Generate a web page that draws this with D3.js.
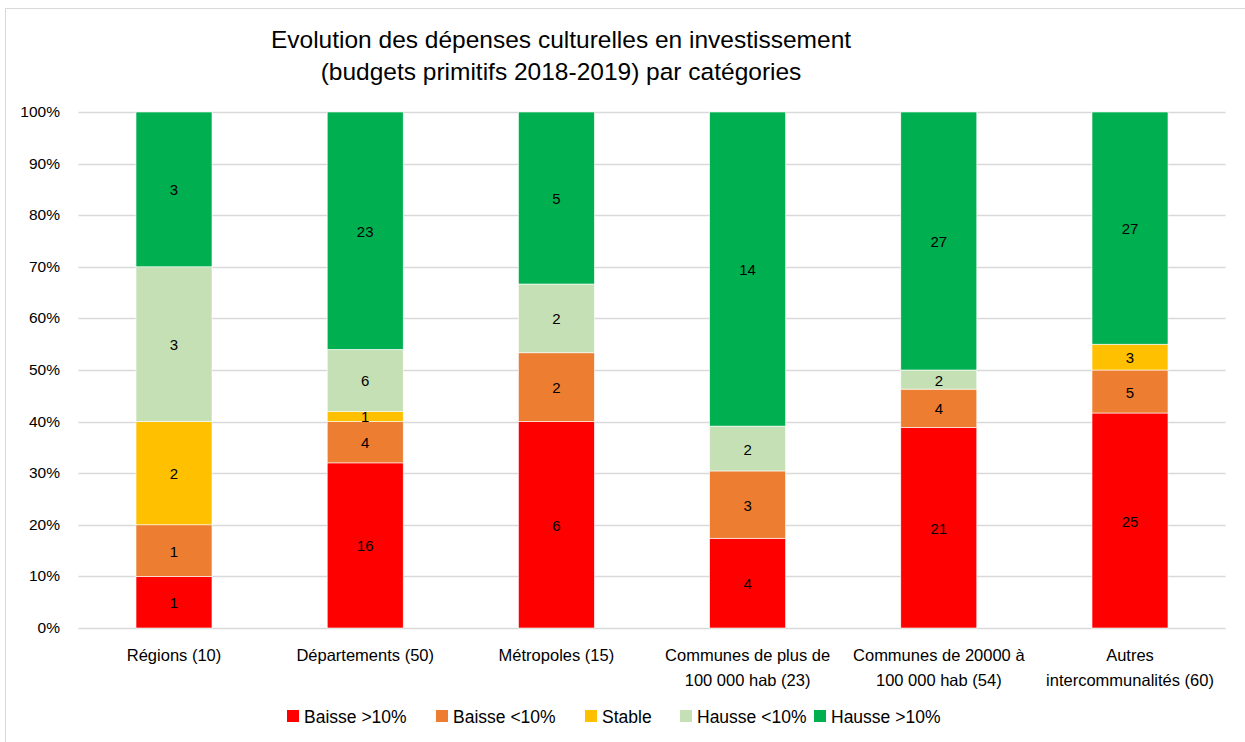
<!DOCTYPE html>
<html>
<head>
<meta charset="utf-8">
<script src="https://cdn.jsdelivr.net/npm/d3@7"></script>
<style>
  body { margin: 0; background: #fff; }
  text { font-family: "Liberation Sans", Arial, sans-serif; fill: #000; }
</style>
</head>
<body>
<div id="chart"></div>
<script>
// categories (two lines for the axis labels)
var categories = [
  ["Régions (10)"],
  ["Départements (50)"],
  ["Métropoles (15)"],
  ["Communes de plus de", "100 000 hab (23)"],
  ["Communes de 20000 à", "100 000 hab (54)"],
  ["Autres", "intercommunalités (60)"]
];
var seriesNames = ["Baisse >10%", "Baisse <10%", "Stable", "Hausse <10%", "Hausse >10%"];
var seriesColors = ["#ff0000", "#ed7d31", "#ffc000", "#c5e0b4", "#00b050"];

// counts per category
var baisseFort = [1, 16, 6, 4, 21, 25];
var baisseFaible = [1, 4, 2, 3, 4, 5];
var stable = [2, 1, 0, 0, 0, 3];
var hausseFaible = [3, 6, 2, 2, 2, 0];
var hausseFort = [3, 23, 5, 14, 27, 27];

var yTicks = [0, 0.1, 0.2, 0.3, 0.4, 0.5, 0.6, 0.7, 0.8, 0.9, 1];

var W = 1245, H = 742;
var svg = d3.select("#chart").append("svg")
  .attr("width", W)
  .attr("height", H);

// chart frame
svg.append("rect")
  .attr("x", 5.5).attr("y", 8.5)
  .attr("width", 1250).attr("height", 740)
  .attr("fill", "none")
  .attr("stroke", "#d9d9d9");

var rows = categories.map(function (c, i) {
  var vals = [baisseFort[i], baisseFaible[i], stable[i], hausseFaible[i], hausseFort[i]];
  var total = d3.sum(vals);
  var r = { idx: i, total: total, vals: vals };
  seriesNames.forEach(function (s, j) { r[s] = vals[j] / total; });
  return r;
});

var stack = d3.stack().keys(seriesNames);
var layers = stack(rows);

var x = d3.scaleBand()
  .domain(d3.range(categories.length))
  .range([78.4, 1225.6]);

var barW = 76;

var y = d3.scaleLinear()
  .domain([0, 1])
  .range([628, 112]);

// gridlines
svg.append("g")
  .selectAll("line")
  .data(yTicks)
  .enter().append("line")
  .attr("x1", 78.4).attr("x2", 1225.6)
  .attr("y1", function (d) { return Math.round(y(d)) + 0.5; })
  .attr("y2", function (d) { return Math.round(y(d)) + 0.5; })
  .attr("stroke", "#d9d9d9")
  .attr("stroke-width", 1.3);

// y axis labels
svg.append("g")
  .selectAll("text")
  .data(yTicks)
  .enter().append("text")
  .attr("x", 60)
  .attr("y", function (d) { return y(d) + 5; })
  .attr("text-anchor", "end")
  .style("font-size", "15.5px")
  .attr("fill", "#000")
  .text(function (d) { return Math.round(d * 100) + "%"; });

// bars
var layer = svg.append("g")
  .selectAll("g")
  .data(layers)
  .enter().append("g")
  .attr("fill", function (d, i) { return seriesColors[i]; });

layer.selectAll("rect")
  .data(function (d) { return d; })
  .enter().append("rect")
  .attr("x", function (d) { return x(d.data.idx) + x.bandwidth() / 2 - barW / 2; })
  .attr("width", barW)
  .attr("y", function (d) { return y(d[1]); })
  .attr("height", function (d) { return y(d[0]) - y(d[1]); })
  .attr("stroke", "#fff")
  .attr("stroke-width", 0.6);

// data labels
layers.forEach(function (l, j) {
  svg.append("g")
    .selectAll("text")
    .data(l.filter(function (d) { return d[1] - d[0] > 0; }))
    .enter().append("text")
    .attr("x", function (d) { return x(d.data.idx) + x.bandwidth() / 2; })
    .attr("y", function (d) { return (y(d[0]) + y(d[1])) / 2 + 6; })
    .attr("text-anchor", "middle")
    .style("font-size", "15px")
    .text(function (d) { return d.data.vals[j]; });
});

// category labels
var cat = svg.append("g")
  .selectAll("text")
  .data(categories)
  .enter().append("text")
  .attr("text-anchor", "middle")
  .style("font-size", "16.5px")
  .attr("transform", function (d, i) {
    return "translate(" + (x(i) + x.bandwidth() / 2) + ",661)";
  });

cat.selectAll("tspan")
  .data(function (d) { return d; })
  .enter().append("tspan")
  .attr("x", 0)
  .attr("dy", function (d, i) { return i === 0 ? 0 : 25; })
  .text(function (d) { return d; });

// title
var title = svg.append("text")
  .attr("text-anchor", "middle")
  .style("font-size", "24.5px")
  .attr("transform", "translate(561,48)");
title.append("tspan").attr("x", 0).attr("dy", 0)
  .text("Evolution des dépenses culturelles en investissement");
title.append("tspan").attr("x", 0).attr("dy", 32)
  .text("(budgets primitifs 2018-2019) par catégories");

// legend
var legendX = [287, 436, 585, 680, 814];
var legend = svg.append("g")
  .selectAll("g")
  .data(seriesNames)
  .enter().append("g")
  .attr("transform", function (d, i) { return "translate(" + legendX[i] + ",710)"; });

legend.append("rect")
  .attr("width", 12).attr("height", 12)
  .attr("fill", function (d, i) { return seriesColors[i]; });

legend.append("text")
  .attr("x", 17).attr("y", 13)
  .style("font-size", "17.5px")
  .text(function (d) { return d; });
</script>
</body>
</html>
